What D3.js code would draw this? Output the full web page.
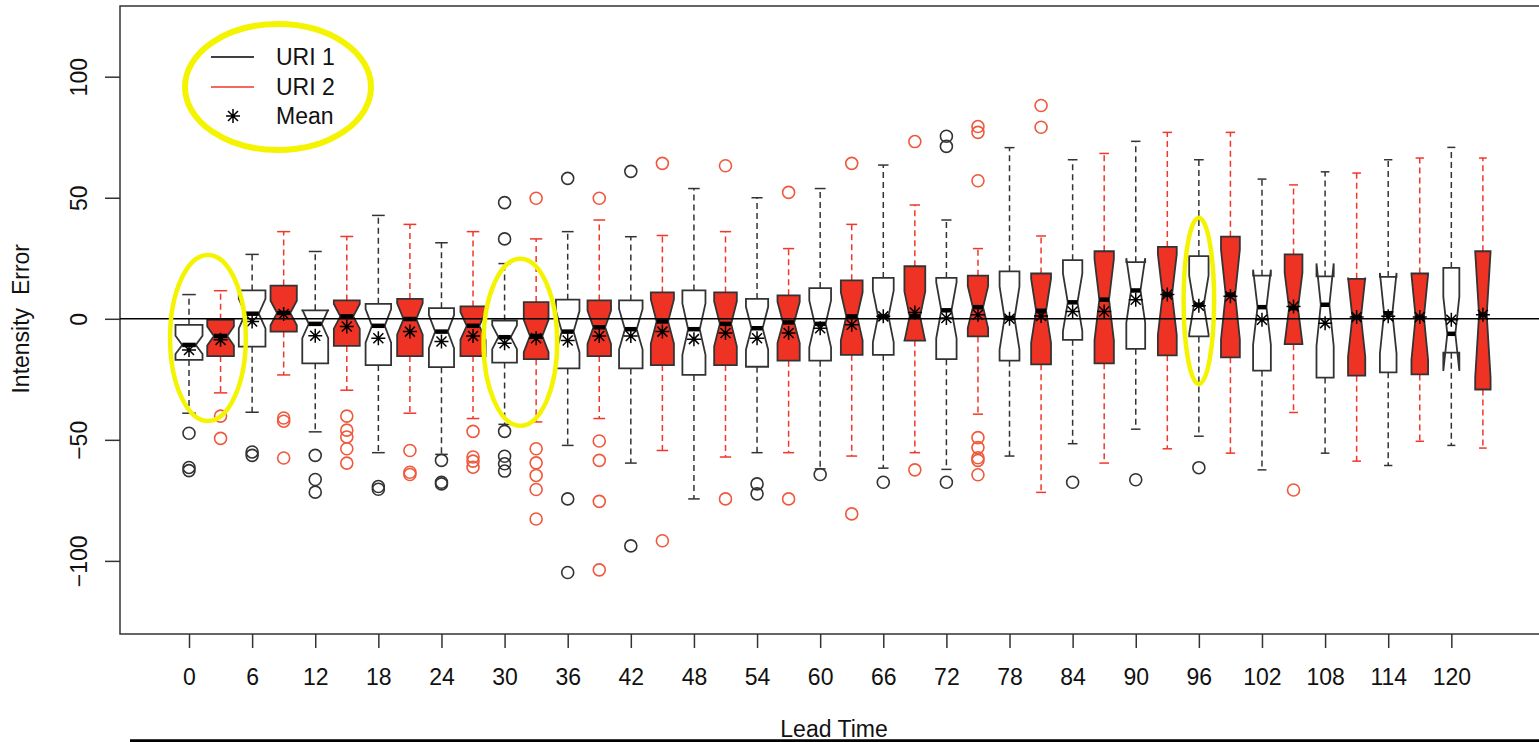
<!DOCTYPE html>
<html>
<head>
<meta charset="utf-8">
<script src="https://cdn.jsdelivr.net/npm/d3@7"></script>
<style>
  body { margin: 0; background: #fff; }
  text { font-family: "Liberation Sans", Arial, Helvetica, sans-serif; }
</style>
</head>
<body>
<svg id="chart" width="1539" height="742"></svg>
<script>
// box positions (lead time, hours) and which run each box belongs to
const leads  = [0,3,6,9,12,15,18,21,24,27,30,33,36,39,42,45,48,51,54,57,60,63,66,69,72,75,78,81,84,87,90,93,96,99,102,105,108,111,114,117,120,123];
const groups = [1,2,1,2,1,2,1,2,1,2,1,2,1,2,1,2,1,2,1,2,1,2,1,2,1,2,1,2,1,2,1,2,1,2,1,2,1,2,1,2,1,2];

// box statistics
const whiskLo = [-39,-30.6,-38.6,-23.2,-46.7,-29.5,-55.3,-39,-56,-41.2,-43.6,-42.6,-52.3,-41.2,-59.6,-54.4,-74.4,-57.1,-55.3,-55.3,-62,-56.7,-61.7,-55.3,-62.2,-39.4,-56.7,-71.7,-51.6,-59.6,-45.6,-53.7,-48.5,-55.5,-62.4,-38.7,-55.5,-58.8,-60.6,-50.6,-52.3,-53.4];
const q1      = [-17,-15.4,-11.5,-5.3,-18.4,-11.2,-19.1,-15.4,-20,-15.4,-18.1,-16.7,-20.5,-15.4,-20.5,-19.1,-23.2,-19.1,-19.8,-17.3,-17.3,-14.9,-14.9,-9,-16.7,-7.3,-17.3,-18.8,-8.7,-18.4,-12.4,-15.1,-7.3,-15.9,-21.4,-10.5,-24.3,-23.5,-22.1,-23,-14,-29.2];
const medians = [-10.8,-7.1,2.1,2.4,-2.1,1,-2.9,-0.1,-5.3,-2.9,-7.6,-7.1,-5.3,-3.5,-4.3,-1.1,-4.3,-2.1,-3.9,-1.5,-2.1,1,1,1,3.5,4.8,0.3,3.3,6.8,7.9,11.7,10,5.8,10,4.8,4.4,5.8,0.7,2.3,0.7,-6.2,1.7];
const q3      = [-2.5,-0.4,11.7,13.7,3.5,7.6,6.2,8.2,4.4,5.1,-0.7,6.9,7.9,7.6,7.6,10.9,11.7,10.9,8.2,9.7,12.7,15.9,16.9,21.7,16.9,17.8,19.6,18.7,24.2,27.9,23.4,29.7,25.9,33.9,17.8,26.6,17.5,16.5,17.3,18.7,21,27.9];
const whiskHi = [10,11.6,26.6,36,27.8,34,42.7,39,31.4,36,22.8,33,36,40.8,33.9,34.4,53.8,36,50,29,53.8,39,63.5,47,40.8,29,70.7,34.2,65.7,68.3,73.3,77,65.7,77,57.7,55.3,60.7,60.2,65.7,66.4,70.8,66.4];
const means   = [-12.9,-8.7,-1.1,2,-7,-3.2,-8,-5.3,-9.4,-7.1,-10.1,-8,-9,-7.1,-7.1,-5.3,-8.4,-5.9,-8,-5.9,-3.9,-2.5,1,2.6,0.3,1.7,0,1.2,3,3,7.9,10,5.4,9.3,-0.4,5.1,-1.8,0.7,1,0.7,-0.4,1.7];
// estimated number of cases per box (sets box width and notch size)
const counts  = [37,36,36,35,34,34,33,33,32,32,31,31,28,28,28,27,27,26,25,25,24,24,22,22,21,21,20,20,19,19,18,18,19,18,16,16,15,15,14,14,13,12];
const outliers = [
  [-47.3,-61.4,-62.7], [-40.2,-49.4], [-55,-56.4], [-41,-42.3,-57.5], [-56.4,-66.4,-71.6],
  [-40.2,-46,-48.8,-53.7,-59.6], [-69.3,-70.4], [-54.4,-63.4,-64.3], [-58.5,-67.5,-68.2],
  [-46.5,-57.1,-58.8,-61.3], [48,33,-46.5,-56.8,-59.9,-62.9], [49.8,-53.7,-59.5,-64.7,-70.5,-82.7],
  [58,-74.4,-104.8], [49.8,-50.5,-58.5,-75.4,-103.7], [60.9,-93.8], [64.2,-91.7], [],
  [63.2,-74.4], [-68.2,-72.3], [52.2,-74.4], [-64.3], [64.2,-80.6], [-67.5], [73.2,-62.4],
  [75.4,71.2,-67.5], [79.4,77,57,-49.1,-53.2,-57.4,-58.5,-64.4], [], [88.1,79.1], [-67.5], [],
  [-66.5], [], [-61.5], [], [], [-70.7], [], [], [], [], [], []
];

const xTicks = [0,6,12,18,24,30,36,42,48,54,60,66,72,78,84,90,96,102,108,114,120];
const yTicks = [-100,-50,0,50,100];
const legendLabels = ["URI 1", "URI 2", "Mean"];

// yellow highlight rings (centre lead, centre value, radius in lead units, radius in value units)
const highlights = [
  { lead: 1.8, value: -7.9, rl: 3.6, rv: 34.3 },
  { lead: 31.5, value: -9.7, rl: 3.5, rv: 34.5 },
  { lead: 96, value: 7.4, rl: 1.45, rv: 34.3 }
];

const dark = "#333";
const redFill = "#ee3224";
const redLine = "#f2362a";
const redPoint = "#f0583c";
const yellow = "#f4f400";

const svg = d3.select("#chart");
const plotLeft = 120, plotTop = 6, plotBottom = 634, plotRight = 1546;

const x = d3.scaleLinear().domain([-6.56, 129]).range([plotLeft, plotRight]);
const y = d3.scaleLinear().domain([-130.2, 129.2]).range([plotBottom, plotTop]);

const maxCount = d3.max(counts);
const maxBoxUnits = 2.57;

// axes
const yAxis = d3.axisLeft(y).tickValues(yTicks).tickSize(15).tickSizeOuter(0);
const yg = svg.append("g").attr("transform", `translate(${plotLeft},0)`).call(yAxis);
yg.select(".domain").remove();
yg.selectAll(".tick line").attr("stroke", dark).attr("stroke-width", 1.5);
yg.selectAll(".tick text")
  .attr("transform", "rotate(-90)")
  .attr("x", 0).attr("y", -33.5).attr("dy", 0)
  .attr("text-anchor", "middle")
  .attr("fill", "#111")
  .style("font-size", "23px");

const xAxis = d3.axisBottom(x).tickValues(xTicks).tickSize(14).tickSizeOuter(0);
const xg = svg.append("g").attr("transform", `translate(0,${plotBottom})`).call(xAxis);
xg.select(".domain").remove();
xg.selectAll(".tick line").attr("stroke", dark).attr("stroke-width", 1.5);
xg.selectAll(".tick text")
  .attr("y", 51).attr("dy", 0)
  .attr("fill", "#111")
  .style("font-size", "23px");

svg.append("text")
  .attr("transform", `translate(29,${y(0)}) rotate(-90)`)
  .attr("text-anchor", "middle")
  .style("font-size", "23px")
  .style("white-space", "pre")
  .attr("fill", "#111")
  .text("Intensity  Error");

svg.append("text")
  .attr("x", 834).attr("y", 737)
  .attr("text-anchor", "middle")
  .style("font-size", "23px")
  .attr("fill", "#111")
  .text("Lead Time");

// plot frame
svg.append("rect")
  .attr("x", plotLeft).attr("y", plotTop)
  .attr("width", plotRight - plotLeft).attr("height", plotBottom - plotTop)
  .attr("fill", "none").attr("stroke", dark).attr("stroke-width", 1.5);

const starPath = "M-7,0H7M0,-7V7M-5,-5L5,5M-5,5L5,-5";

const boxes = svg.append("g");
leads.forEach((lead, i) => {
  const cx = x(lead);
  const wid = (x(maxBoxUnits * Math.sqrt(counts[i] / maxCount)) - x(0)) / 2;
  const isRed = groups[i] === 2;
  const wCol = isRed ? redLine : dark;
  const g = boxes.append("g");

  // dashed whiskers
  [[q1[i], whiskLo[i]], [q3[i], whiskHi[i]]].forEach(([a, b]) => {
    g.append("line")
      .attr("x1", cx).attr("x2", cx).attr("y1", y(a)).attr("y2", y(b))
      .attr("stroke", wCol).attr("stroke-width", 1.5).attr("stroke-dasharray", "6,4");
    g.append("line")
      .attr("x1", cx - wid / 2).attr("x2", cx + wid / 2).attr("y1", y(b)).attr("y2", y(b))
      .attr("stroke", wCol).attr("stroke-width", 1.5);
  });

  // notched box like R's bxp
  const nh = 1.58 * (q3[i] - q1[i]) / Math.sqrt(counts[i]);
  const m = medians[i];
  const pts = [[-1, q1[i]], [1, q1[i]], [1, m - nh], [0.5, m], [1, m + nh], [1, q3[i]],
               [-1, q3[i]], [-1, m + nh], [-0.5, m], [-1, m - nh]];
  g.append("path")
    .attr("d", d3.line()(pts.map(p => [cx + p[0] * wid, y(p[1])])) + "Z")
    .attr("fill", isRed ? redFill : "#fff")
    .attr("stroke", dark).attr("stroke-width", 1.8).attr("stroke-linejoin", "miter");

  g.append("line")
    .attr("x1", cx - wid / 2).attr("x2", cx + wid / 2).attr("y1", y(m)).attr("y2", y(m))
    .attr("stroke", "#000").attr("stroke-width", 4.5);

  g.selectAll("circle").data(outliers[i]).join("circle")
    .attr("cx", cx).attr("cy", d => y(d)).attr("r", 6)
    .attr("fill", "none").attr("stroke", isRed ? redPoint : dark).attr("stroke-width", 1.6);
});

// means
svg.append("g").selectAll("path").data(leads).join("path")
  .attr("transform", (d, i) => `translate(${x(d)},${y(means[i])})`)
  .attr("d", starPath)
  .attr("stroke", "#000").attr("stroke-width", 1.5).attr("fill", "none");

// zero line
svg.append("line")
  .attr("x1", plotLeft).attr("x2", plotRight).attr("y1", y(0)).attr("y2", y(0))
  .attr("stroke", "#000").attr("stroke-width", 1.5);

// legend
const legend = svg.append("g");
const legendY = [57, 87, 116];
legendLabels.forEach((lab, i) => {
  if (i < 2) {
    legend.append("line")
      .attr("x1", 211).attr("x2", 254).attr("y1", legendY[i]).attr("y2", legendY[i])
      .attr("stroke", i === 0 ? "#000" : redLine).attr("stroke-width", 1.3);
  } else {
    legend.append("path")
      .attr("transform", `translate(233,${legendY[i]})`)
      .attr("d", starPath).attr("stroke", "#000").attr("stroke-width", 1.5).attr("fill", "none");
  }
  legend.append("text")
    .attr("x", 276).attr("y", legendY[i]).attr("dy", "0.36em")
    .style("font-size", "23px").attr("fill", "#111")
    .text(lab);
});

// yellow annotation rings
svg.append("ellipse")
  .attr("cx", 278).attr("cy", 87).attr("rx", 93).attr("ry", 63)
  .attr("fill", "none").attr("stroke", yellow).attr("stroke-width", 6);

svg.append("g").selectAll("ellipse").data(highlights).join("ellipse")
  .attr("cx", d => x(d.lead)).attr("cy", d => y(d.value))
  .attr("rx", d => x(d.rl) - x(0)).attr("ry", d => y(0) - y(d.rv))
  .attr("fill", "none").attr("stroke", yellow).attr("stroke-width", 4.5);

// heavy rule at the very bottom
svg.append("line")
  .attr("x1", 130).attr("x2", 1539).attr("y1", 741).attr("y2", 741)
  .attr("stroke", "#000").attr("stroke-width", 3.5);
</script>
</body>
</html>
